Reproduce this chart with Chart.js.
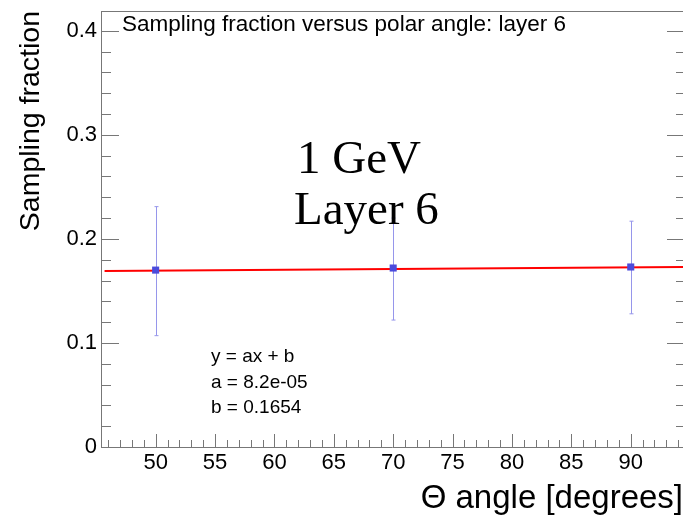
<!DOCTYPE html>
<html>
<head>
<meta charset="utf-8">
<script src="https://cdn.jsdelivr.net/npm/chart.js@4.4.1/dist/chart.umd.min.js"></script>
<style>
    html, body { margin: 0; padding: 0; background: #fff; }
</style>
</head>
<body>
<canvas id="chart" width="683" height="520"></canvas>
<script>
// measured points (polar angle, sampling fraction) with error bar ends
const angles = [50, 70, 90];
const fractions = [0.170, 0.172, 0.173];
const errHigh = [0.231, 0.220, 0.217];
const errLow = [0.107, 0.122, 0.128];

// straight line fit drawn across the frame
const fitX = [45.7, 94.4];
const fitY = [0.1692, 0.1731];

const xTicks = [50, 55, 60, 65, 70, 75, 80, 85, 90];
const yTicks = [0, 0.1, 0.2, 0.3, 0.4];

const plotTitle = "Sampling fraction versus polar angle: layer 6";
const fitLines = ["y = ax + b", "a = 8.2e-05", "b = 0.1654"];
const energyLines = ["1 GeV", "Layer 6"];

const canvas = document.querySelector("#chart");
const axisColor = "#777";

const rootFrame = {
    id: "rootFrame",
    beforeDatasetsDraw(chart) {
        const ctx = chart.ctx;
        const xs = chart.scales.x;
        const ys = chart.scales.y;

        // error bars
        ctx.save();
        ctx.strokeStyle = "rgb(150,150,235)";
        ctx.lineWidth = 1;
        for (let i = 0; i < angles.length; i++) {
            const px = Math.round(xs.getPixelForValue(angles[i])) + 0.5;
            const top = ys.getPixelForValue(errHigh[i]);
            const bot = ys.getPixelForValue(errLow[i]);
            ctx.beginPath();
            ctx.moveTo(px, top);
            ctx.lineTo(px, bot);
            ctx.moveTo(px - 2, top);
            ctx.lineTo(px + 2, top);
            ctx.moveTo(px - 2, bot);
            ctx.lineTo(px + 2, bot);
            ctx.stroke();
        }
        ctx.restore();
    },
    afterDraw(chart) {
        const ctx = chart.ctx;
        const area = chart.chartArea;
        const xs = chart.scales.x;
        const ys = chart.scales.y;

        ctx.save();
        ctx.strokeStyle = axisColor;
        ctx.lineWidth = 1;
        ctx.beginPath();
        ctx.moveTo(area.left, area.top + 0.5);
        ctx.lineTo(area.right, area.top + 0.5);

        // y ticks, both sides
        for (let v = 0; v <= 0.4001; v += 0.02) {
            const py = Math.round(ys.getPixelForValue(v)) + 0.5;
            const major = Math.abs(v * 10 - Math.round(v * 10)) < 1e-6;
            const lenL = major ? 18 : 10;
            const lenR = major ? 16 : 7;
            ctx.moveTo(area.left, py);
            ctx.lineTo(area.left + lenL, py);
            ctx.moveTo(area.right, py);
            ctx.lineTo(area.right - lenR, py);
        }
        // x ticks
        for (let v = 46; v <= 94; v++) {
            const px = Math.round(xs.getPixelForValue(v)) + 0.5;
            const len = v % 5 === 0 ? 13 : 7;
            ctx.moveTo(px, area.bottom);
            ctx.lineTo(px, area.bottom - len);
        }
        ctx.stroke();

        ctx.fillStyle = "#000";
        ctx.textBaseline = "alphabetic";
        ctx.textAlign = "left";
        ctx.font = "22.5px 'Liberation Sans', Arial, sans-serif";
        ctx.fillText(plotTitle, 122, 31);

        ctx.font = "19px 'Liberation Sans', Arial, sans-serif";
        fitLines.forEach((t, i) => ctx.fillText(t, 211, 362 + i * 25.5));

        ctx.font = "47px 'Liberation Serif', 'Times New Roman', serif";
        ctx.fillText(energyLines[0], 297, 173);
        ctx.fillText(energyLines[1], 294, 224);
        ctx.restore();
    }
};

new Chart(canvas, {
    type: "scatter",
    data: {
        datasets: [{
            type: "line",
            label: "fit",
            data: fitX.map((x, i) => ({ x, y: fitY[i] })),
            borderColor: "rgb(255,0,0)",
            borderWidth: 2,
            pointRadius: 0,
            order: 2
        }, {
            label: "layer 6",
            data: angles.map((x, i) => ({ x, y: fractions[i] })),
            pointStyle: "rect",
            pointRadius: 5,
            backgroundColor: "rgb(75,75,220)",
            borderWidth: 0,
            order: 1
        }]
    },
    options: {
        responsive: false,
        animation: false,
        layout: { autoPadding: false, padding: { top: 11, right: 0, left: 0, bottom: 0 } },
        plugins: {
            legend: { display: false },
            tooltip: { enabled: false }
        },
        scales: {
            x: {
                type: "linear",
                min: 45.4,
                max: 94.4,
                afterBuildTicks: s => { s.ticks = xTicks.map(v => ({ value: v })); },
                afterFit: s => { s.height = 73; s.paddingLeft = 0; s.paddingRight = 0; },
                grid: { display: false, drawTicks: false },
                border: { display: true, color: axisColor, width: 1 },
                ticks: {
                    padding: 3,
                    color: "#000",
                    maxRotation: 0,
                    font: { family: "'Liberation Sans', Arial, sans-serif", size: 22 }
                },
                title: {
                    display: true,
                    text: "\u0398 angle [degrees]",
                    align: "end",
                    color: "#000",
                    padding: { top: 0, bottom: 1 },
                    font: { family: "'Liberation Sans', Arial, sans-serif", size: 33 }
                }
            },
            y: {
                type: "linear",
                min: 0,
                max: 0.419,
                afterBuildTicks: s => { s.ticks = yTicks.map(v => ({ value: v })); },
                afterFit: s => { s.width = 101; s.paddingTop = 0; s.paddingBottom = 0; },
                grid: { display: false, drawTicks: false },
                border: { display: true, color: axisColor, width: 1 },
                ticks: {
                    padding: 4,
                    color: "#000",
                    callback: v => v === 0 ? "0" : v.toFixed(1),
                    font: { family: "'Liberation Sans', Arial, sans-serif", size: 22 }
                },
                title: {
                    display: true,
                    text: "Sampling fraction",
                    align: "end",
                    color: "#000",
                    padding: { top: 14, bottom: 0 },
                    font: { family: "'Liberation Sans', Arial, sans-serif", size: 28.5 }
                }
            }
        }
    },
    plugins: [rootFrame]
});
</script>
</body>
</html>
